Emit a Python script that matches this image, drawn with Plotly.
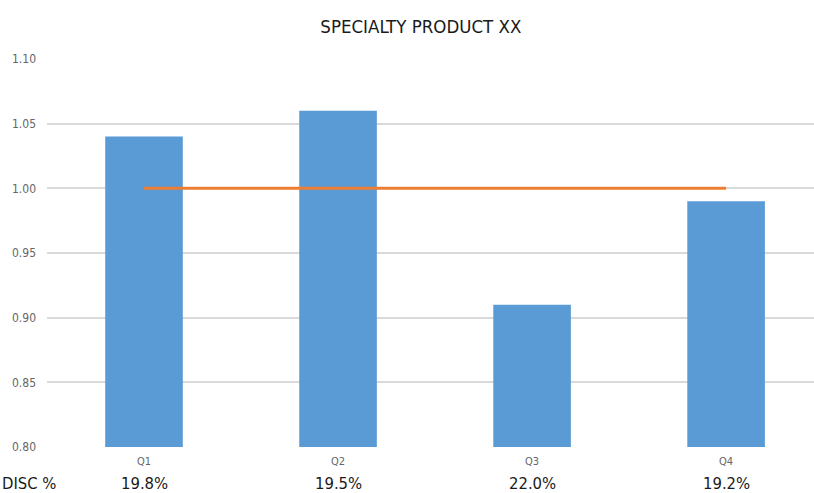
import plotly.graph_objects as go

quarters = ["Q1", "Q2", "Q3", "Q4"]
index_values = [1.04, 1.06, 0.91, 0.99]
target_values = [1.00, 1.00, 1.00, 1.00]
disc_pct = ["19.8%", "19.5%", "22.0%", "19.2%"]
y_ticks = [0.80, 0.85, 0.90, 0.95, 1.00, 1.05, 1.10]

FONT = "DejaVu Sans Condensed, Liberation Sans Narrow, Arial Narrow, sans-serif"

fig = go.Figure()
fig.add_trace(go.Bar(
    x=quarters, y=index_values, width=0.4,
    marker=dict(color="#5B9BD5", line=dict(width=0)),
    showlegend=False,
))
fig.add_trace(go.Scatter(
    x=quarters, y=target_values, mode="lines",
    line=dict(color="#ED7D31", width=3), showlegend=False,
))

annotations = [dict(
    text="DISC %", x=0, xref="paper", xanchor="left", xshift=-47,
    y=-0.095, yref="paper", yanchor="middle", showarrow=False,
    font=dict(family=FONT, size=16.5, color="#1a1a1a"),
)]
for q, d in zip(quarters, disc_pct):
    annotations.append(dict(
        text=d, x=q, xref="x", y=-0.095, yref="paper", yanchor="middle",
        showarrow=False, font=dict(family=FONT, size=16.5, color="#1a1a1a"),
    ))

fig.update_layout(
    width=814, height=493,
    margin=dict(l=47, r=0, t=59, b=46),
    paper_bgcolor="white", plot_bgcolor="white",
    title=dict(text="SPECIALTY PRODUCT XX", x=0.517, xanchor="center",
               y=0.947, yanchor="middle",
               font=dict(family=FONT, size=18.5, color="#1a1a1a")),
    xaxis=dict(range=[-0.5, 3.453], showgrid=False, showline=False,
               ticks="", ticklabelstandoff=6,
               tickfont=dict(family=FONT, size=11, color="#666666")),
    yaxis=dict(range=[0.8, 1.1], tickvals=y_ticks,
               ticktext=[f"{v:.2f}" for v in y_ticks],
               showgrid=True, gridcolor="#D9D9D9", gridwidth=1.5,
               zeroline=False, showline=False, ticks="",
               ticklabelstandoff=10,
               tickfont=dict(family=FONT, size=12, color="#666666")),
    annotations=annotations,
)

fig.write_html("out.html")
